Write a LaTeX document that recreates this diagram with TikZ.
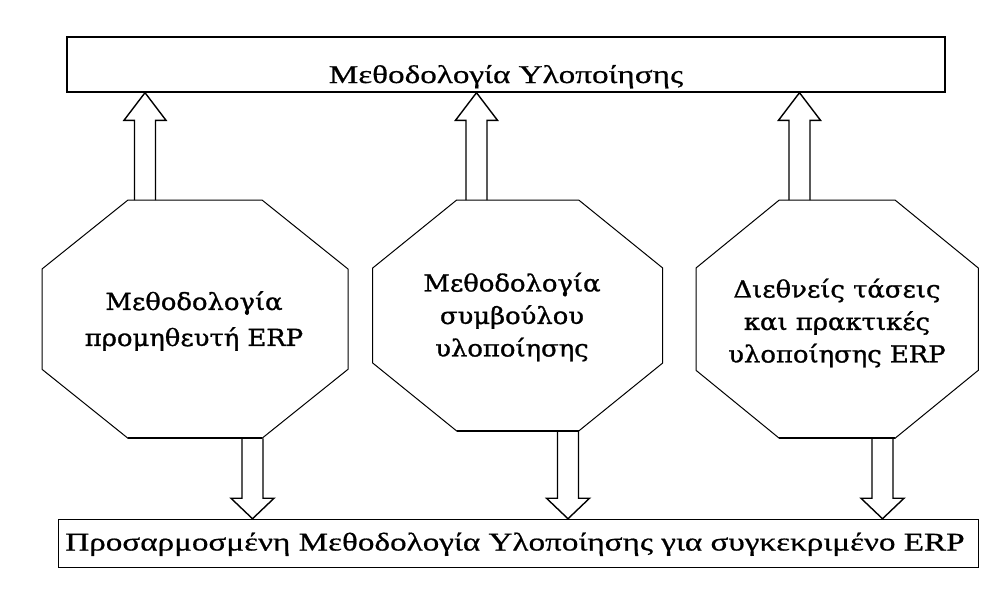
\documentclass[tikz,border=0pt]{standalone}
\usepackage{fontspec}
\setmainfont{Liberation Serif}
\newfontfamily\boxfont[FakeStretch=1.3,FakeBold=0.6]{Liberation Serif}
\newfontfamily\octfont[FakeStretch=1.1,FakeBold=1.2]{DejaVu Serif}
\usetikzlibrary{calc}
\tikzset{
  topbox/.style={draw, line width=2pt, rectangle, inner sep=0pt},
  botbox/.style={draw, line width=1.1pt, rectangle, inner sep=0pt},
  boxtext/.style={font=\boxfont\fontsize{25.5}{30}\selectfont, anchor=base, inner sep=0pt},
  octtext/.style={font=\octfont\fontsize{23.5}{32.5}\selectfont, align=center, inner sep=0pt},
  octline/.style={draw, line width=1pt, line join=miter},
  octbase/.style={draw, line width=2pt},
  fatup/.style={line width=1.4pt, line join=miter,
    to path={let \p1=(\tikztostart), \p2=(\tikztotarget) in
      (\x2-10.5pt,\y1) -- (\x2-10.5pt,\y2-27.6pt) -- (\x2-21pt,\y2-27.6pt) -- (\x2,\y2)
      -- (\x2+21pt,\y2-27.6pt) -- (\x2+10.5pt,\y2-27.6pt) -- (\x2+10.5pt,\y1)}},
  fatdown/.style={line width=1.4pt, line join=miter,
    to path={let \p1=(\tikztostart), \p2=(\tikztotarget) in
      (\x2-10.5pt,\y1) -- (\x2-10.5pt,\y2+20.5pt) -- (\x2-21.5pt,\y2+20.5pt) -- (\x2,\y2)
      -- (\x2+21.5pt,\y2+20.5pt) -- (\x2+10.5pt,\y2+20.5pt) -- (\x2+10.5pt,\y1)}}
}
\begin{document}
\begin{tikzpicture}[x=1pt,y=-1pt]
\useasboundingbox[fill=white] (0,0) rectangle (989,616);

% top box
\node[topbox, minimum width=878.3pt, minimum height=54.4pt] (top) at (505.85,64.5) {};
\node[boxtext] (toptext) at (506,83) {Μεθοδολογία Υλοποίησης};

% bottom box
\node[botbox, minimum width=920pt, minimum height=48pt] (bot) at (518.3,543.3) {};
\node[boxtext] (bottext) at (515,550.5) {Προσαρμοσμένη Μεθοδολογία Υλοποίησης για συγκεκριμένο ERP};

% octagon 1
\draw[octline] (128,200) coordinate (o1a) -- (262,200) -- (348,269) -- (348,369.3) -- (262,438.3) coordinate (o1b)
   -- (128,438.3) coordinate (o1c) -- (42,369.3) -- (42,269) -- cycle;
\draw[octbase] (o1c) -- (o1b);
\node[octtext, font=\octfont\fontsize{23.5}{36}\selectfont] (t1) at (194,321) {Μεθοδολογία\\προμηθευτή ERP};

% octagon 2
\draw[octline] (456.7,200) -- (578.7,200) -- (662.7,268) -- (662.7,363) -- (578.7,431) coordinate (o2b)
   -- (456.7,431) coordinate (o2c) -- (372.7,363) -- (372.7,268) -- cycle;
\draw[octbase] (o2c) -- (o2b);
\node[octtext] (t2) at (512,317) {Μεθοδολογία\\συμβούλου\\υλοποίησης};

% octagon 3
\draw[octline] (779.3,200) -- (895,200) -- (978.3,268) -- (978.3,370.3) -- (895,438.3) coordinate (o3b)
   -- (779.3,438.3) coordinate (o3c) -- (696,370.3) -- (696,268) -- cycle;
\draw[octbase] (o3c) -- (o3b);
\node[octtext] (t3) at (837,323) {Διεθνείς τάσεις\\και πρακτικές\\υλοποίησης ERP};

% arrow anchor coordinates
\coordinate (u1) at (145,200);
\coordinate (u2) at (476.5,200);
\coordinate (u3) at (799.5,200);
\coordinate (d1) at (252.5,438.3);
\coordinate (d2) at (568,431);
\coordinate (d3) at (882.5,438.3);

% up arrows
\draw[fatup] (u1) to (u1 |- top.south);
\draw[fatup] (u2) to (u2 |- top.south);
\draw[fatup] (u3) to (u3 |- top.south);

% down arrows
\draw[fatdown] (d1) to (d1 |- bot.north);
\draw[fatdown] (d2) to (d2 |- bot.north);
\draw[fatdown] (d3) to (d3 |- bot.north);
\end{tikzpicture}
\end{document}
